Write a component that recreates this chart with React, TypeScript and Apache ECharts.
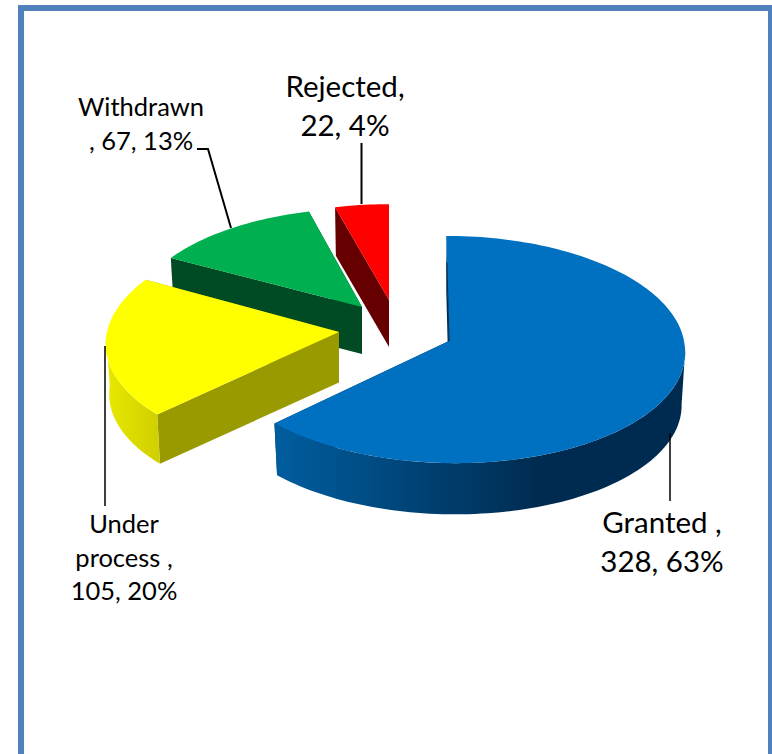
import React, { useEffect, useRef } from "react";
import * as echarts from "echarts";

const categories = ["Granted", "Under process", "Withdrawn", "Rejected"];
const values = [328, 105, 67, 22];
const labelLines = [
  ["Granted ,", "328, 63%"],
  ["Under", "process ,", "105, 20%"],
  ["Withdrawn", ", 67, 13%"],
  ["Rejected,", "22, 4%"],
];

const topColors = ["#0070C0", "#FFFF00", "#00B050", "#FF0000"];
const cutColors = ["#002B50", "#999900", "#004B23", "#660000"];
const sideStops = [
  [[0, "#005E9F"], [0.65, "#002B50"], [1, "#002B50"]],
  [[0, "#E8E800"], [1, "#CFCF00"]],
  [[0, "#004B23"], [1, "#004B23"]],
  [[0, "#660000"], [1, "#660000"]],
];

// Pseudo-3D placement of every exploded slice
const geometry = [
  { ax: 449, ay: 341, rx: 235, ry: 113, shearFront: 6, shearBack: 3, depth: 53 },
  { ax: 339, ay: 332, rx: 232, ry: 113, shearFront: -7, shearBack: -7, depth: 50.5 },
  { ax: 362, ay: 307, rx: 227, ry: 106, shearFront: -2.5, shearBack: -2.5, depth: 47 },
  { ax: 389, ay: 300, rx: 221, ry: 103, shearFront: 0, shearBack: 0, depth: 47 },
];
const PERSPECTIVE = 0.075;
const BOTTOM_SCALE = 0.985;
const SIDE_FROM = 95;
const SIDE_TO = 268;

const labelPlacement = [
  { x: 662, ys: [521, 560], size: 29.5 },
  { x: 124, ys: [523, 557, 590], size: 25.5 },
  { x: 141, ys: [106, 140], size: 25.5 },
  { x: 345, ys: [85, 124], size: 29.5 },
];
const leaders = [
  { points: [[670, 433], [670, 501]], width: 1.5 },
  { points: [[105, 346], [105, 506]], width: 1.5 },
  { points: [[197, 149], [208, 149], [231, 228]], width: 2 },
  { points: [[361.5, 143], [361.5, 204]], width: 2 },
];

const total = values.reduce((a, b) => a + b, 0);
const angles = (() => {
  let acc = 0;
  return values.map((v) => {
    const start = acc;
    acc += (v / total) * 360;
    return [start, acc];
  });
})();

function project(i: number, deg: number, bottom: boolean) {
  const g = geometry[i];
  const a = (deg * Math.PI) / 180;
  const u = Math.sin(a);
  const v = -Math.cos(a);
  const w = 1 - PERSPECTIVE * v;
  const sc = bottom ? BOTTOM_SCALE : 1;
  const shear = v > 0 ? g.shearFront : g.shearBack;
  return [
    g.ax + (sc * (g.rx * u + shear * v)) / w,
    g.ay + (sc * g.ry * v) / w + (bottom ? g.depth : 0),
  ];
}

function arc(i: number, from: number, to: number, bottom: boolean) {
  const pts: number[][] = [];
  const n = Math.max(2, Math.ceil(Math.abs(to - from) / 1.5));
  for (let k = 0; k <= n; k++) pts.push(project(i, from + ((to - from) * k) / n, bottom));
  return pts;
}

function renderSlice(params: any, api: any) {
  const i = api.value(0) as number;
  const start = api.value(1) as number;
  const end = api.value(2) as number;
  const g = geometry[i];
  const apexTop = [g.ax, g.ay];
  const apexBottom = [g.ax, g.ay + g.depth];
  const base = (3 - i) * 10;
  const cut = (deg: number, z: number) => ({
    type: "polygon",
    z2: base + z,
    shape: { points: [apexTop, project(i, deg, false), project(i, deg, true), apexBottom] },
    style: { fill: cutColors[i] },
  });
  const children: any[] = [cut(end, 1), cut(start, 2)];
  const from = Math.max(start, SIDE_FROM);
  const to = Math.min(end, SIDE_TO);
  if (from < to) {
    children.push({
      type: "polygon",
      z2: base + 3,
      shape: { points: [...arc(i, from, to, false), ...arc(i, to, from, true)] },
      style: {
        fill: new echarts.graphic.LinearGradient(
          0,
          0,
          1,
          0,
          sideStops[i].map(([offset, color]) => ({ offset: offset as number, color: color as string }))
        ),
      },
    });
  }
  children.push({
    type: "polygon",
    z2: base + 4,
    shape: { points: [apexTop, ...arc(i, start, end, false)] },
    style: { fill: topColors[i] },
  });
  if (start === 0) {
    const p = project(i, start, false);
    children.push({
      type: "line",
      z2: base + 5,
      shape: { x1: p[0] + (g.ax - p[0]) * 0.25, y1: p[1] + (g.ay - p[1]) * 0.25, x2: g.ax, y2: g.ay },
      style: { stroke: cutColors[i], lineWidth: 1 },
    });
  }
  return { type: "group", children };
}

export default function App() {
  const ref = useRef<HTMLDivElement>(null);
  useEffect(() => {
    document.body.style.margin = "0";
    document.body.style.overflow = "hidden";
    const chart = echarts.init(ref.current!, undefined, { renderer: "svg" });
    const graphics: any[] = [
      {
        type: "rect",
        z: 0,
        shape: { x: 21, y: 8, width: 750, height: 800 },
        style: { fill: "#FFFFFF", stroke: "#4F81BD", lineWidth: 6 },
      },
    ];
    leaders.forEach((l) =>
      graphics.push({
        type: "polyline",
        z: 20,
        shape: { points: l.points },
        style: { stroke: "#000000", lineWidth: l.width, fill: "none" },
      })
    );
    labelLines.forEach((lines, i) =>
      lines.forEach((text, k) =>
        graphics.push({
          type: "text",
          z: 20,
          x: labelPlacement[i].x,
          y: labelPlacement[i].ys[k],
          style: {
            text,
            fill: "#000000",
            font: `${labelPlacement[i].size}px Lato`,
            textAlign: "center",
            textVerticalAlign: "middle",
          },
        })
      )
    );
    chart.setOption({
      animation: false,
      backgroundColor: "#FFFFFF",
      graphic: graphics,
      series: [
        {
          type: "custom",
          name: "Applications",
          coordinateSystem: "none",
          silent: true,
          z: 10,
          renderItem: renderSlice,
          data: [3, 2, 1, 0].map((i) => ({
            name: categories[i],
            value: [i, angles[i][0], angles[i][1], values[i]],
          })),
        },
      ],
    });
    return () => chart.dispose();
  }, []);
  return <div ref={ref} style={{ width: 772, height: 754, position: "absolute", left: 0, top: 0 }} />;
}
